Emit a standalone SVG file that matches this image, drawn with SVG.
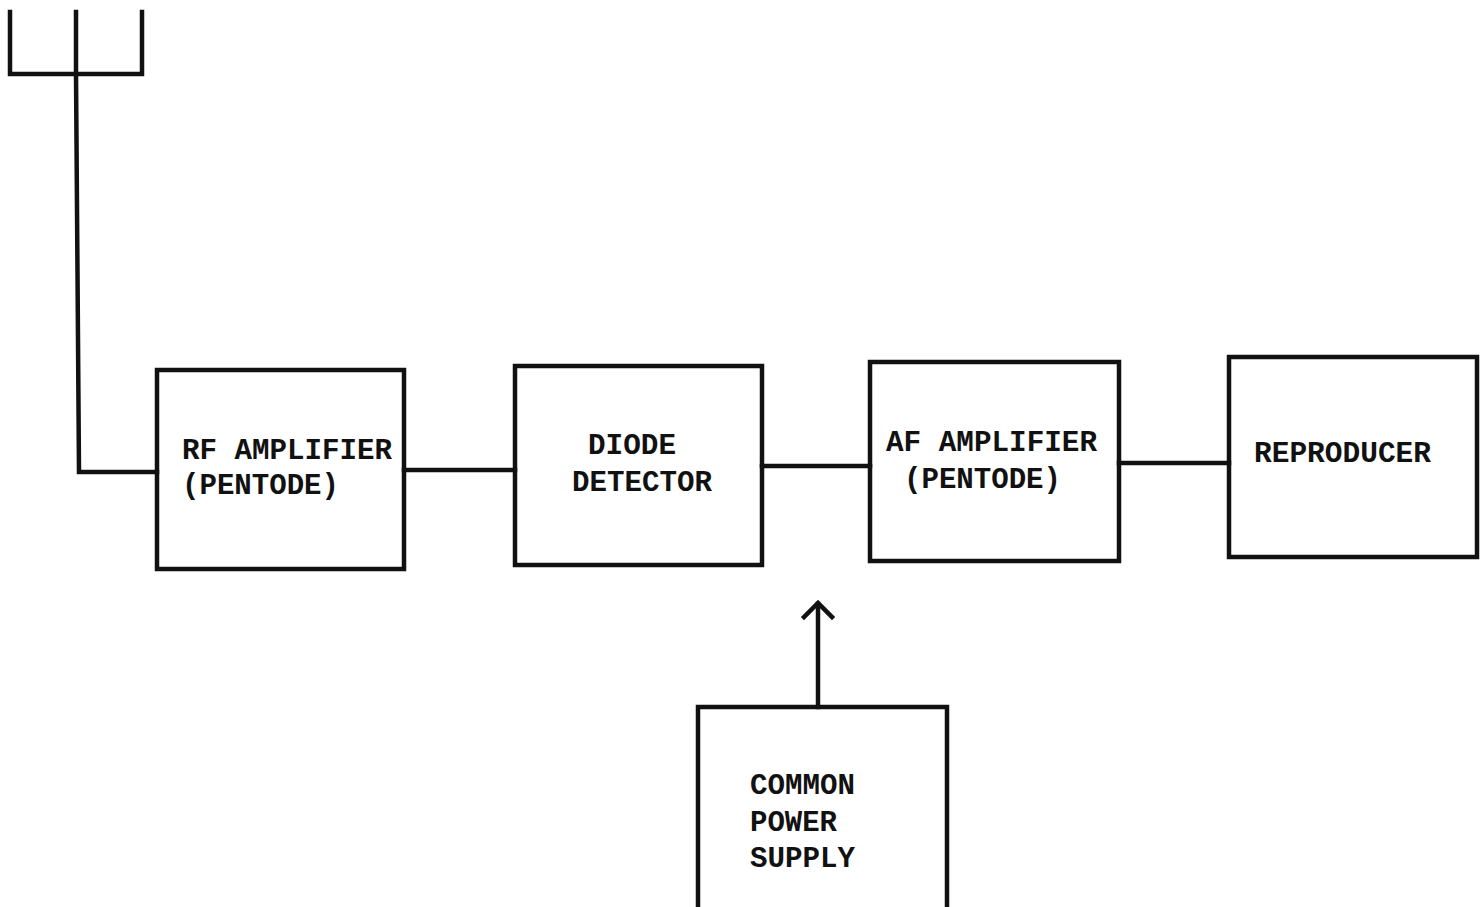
<svg xmlns="http://www.w3.org/2000/svg" width="1481" height="907" viewBox="0 0 1481 907">
<style>
.box{fill:none;stroke:#111;stroke-width:4.5}
.wire{fill:none;stroke:#111;stroke-width:4.5;stroke-linejoin:miter;stroke-linecap:square}
.t{font-family:"Liberation Mono","DejaVu Sans Mono",monospace;font-weight:bold;font-size:30px;fill:#111}
</style>
<rect width="1481" height="907" fill="#fff"/>
<g id="connectors">
<path class="wire" d="M10,12 V74 H142 V12 M76,12 V74 L79,472 H157"/>
<path class="wire" d="M404,470 H515"/>
<path class="wire" d="M762,466 H870"/>
<path class="wire" d="M1119,463 H1229"/>
<path class="wire" d="M818,707 V604"/>
<path class="wire" d="M804,617 L818,603 L832,617" stroke-linecap="round"/>
</g>
<g id="rf-amplifier">
<rect class="box" x="157" y="370" width="247" height="199"/>
<text class="t" x="182" y="459" textLength="210" lengthAdjust="spacingAndGlyphs">RF AMPLIFIER</text>
<text class="t" x="182" y="494" textLength="157" lengthAdjust="spacingAndGlyphs">(PENTODE)</text>
</g>
<g id="diode-detector">
<rect class="box" x="515" y="366" width="247" height="199"/>
<text class="t" x="588" y="454" textLength="88" lengthAdjust="spacingAndGlyphs">DIODE</text>
<text class="t" x="572" y="491" textLength="140" lengthAdjust="spacingAndGlyphs">DETECTOR</text>
</g>
<g id="af-amplifier">
<rect class="box" x="870" y="362" width="249" height="199"/>
<text class="t" x="886" y="451" textLength="211" lengthAdjust="spacingAndGlyphs">AF AMPLIFIER</text>
<text class="t" x="904" y="488" textLength="157" lengthAdjust="spacingAndGlyphs">(PENTODE)</text>
</g>
<g id="reproducer">
<rect class="box" x="1229" y="357" width="248" height="200"/>
<text class="t" x="1254" y="462" textLength="177" lengthAdjust="spacingAndGlyphs">REPRODUCER</text>
</g>
<g id="power-supply">
<path class="box" d="M698,907 V707 H947 V907"/>
<text class="t" x="750" y="794" textLength="105" lengthAdjust="spacingAndGlyphs">COMMON</text>
<text class="t" x="750" y="831" textLength="87" lengthAdjust="spacingAndGlyphs">POWER</text>
<text class="t" x="750" y="867" textLength="105" lengthAdjust="spacingAndGlyphs">SUPPLY</text>
</g>
</svg>
